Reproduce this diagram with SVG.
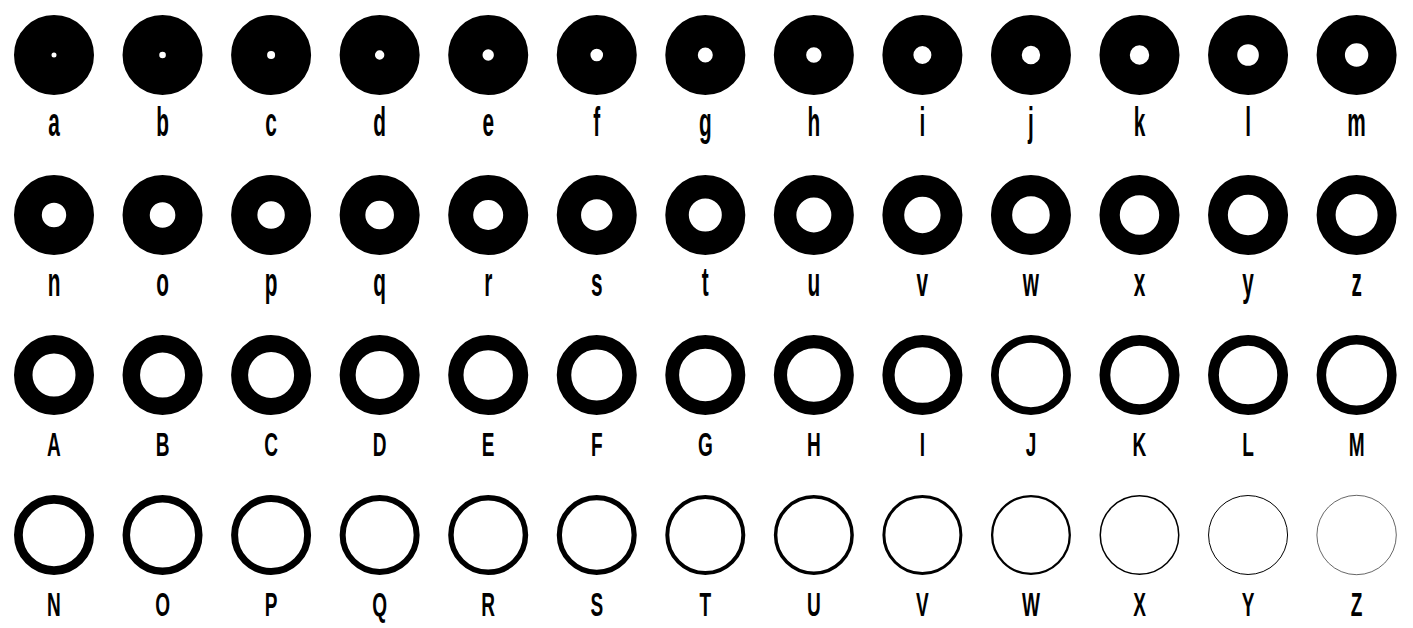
<svg xmlns="http://www.w3.org/2000/svg" width="1413" height="628" viewBox="0 0 1413 628">
<style>
.r{fill:none;stroke:#000}
.lo{font-family:"Liberation Sans",Arial,sans-serif;font-weight:bold;font-size:40px;text-anchor:middle;fill:#000}
.up{font-family:"Liberation Sans",Arial,sans-serif;font-weight:bold;font-size:34px;text-anchor:middle;fill:#000}
</style>
<rect width="1413" height="628" fill="#fff"/>
<g id="nodes">
<g id="n-a"><circle class="r" cx="54" cy="55" r="21.25" stroke-width="37.5"/><text class="lo" transform="translate(54 136) scale(0.52 1)">a</text></g>
<g id="n-b"><circle class="r" cx="162.55" cy="55" r="21.65" stroke-width="36.7"/><text class="lo" transform="translate(162.55 136) scale(0.52 1)">b</text></g>
<g id="n-c"><circle class="r" cx="271.1" cy="55" r="22" stroke-width="36"/><text class="lo" transform="translate(271.1 136) scale(0.52 1)">c</text></g>
<g id="n-d"><circle class="r" cx="379.65" cy="55" r="22.35" stroke-width="35.3"/><text class="lo" transform="translate(379.65 136) scale(0.52 1)">d</text></g>
<g id="n-e"><circle class="r" cx="488.2" cy="55" r="22.85" stroke-width="34.3"/><text class="lo" transform="translate(488.2 136) scale(0.52 1)">e</text></g>
<g id="n-f"><circle class="r" cx="596.75" cy="55" r="23.15" stroke-width="33.7"/><text class="lo" transform="translate(596.75 136) scale(0.52 1)">f</text></g>
<g id="n-g"><circle class="r" cx="705.3" cy="55" r="23.75" stroke-width="32.5"/><text class="lo" transform="translate(705.3 136) scale(0.52 1)">g</text></g>
<g id="n-h"><circle class="r" cx="813.85" cy="55" r="23.85" stroke-width="32.3"/><text class="lo" transform="translate(813.85 136) scale(0.52 1)">h</text></g>
<g id="n-i"><circle class="r" cx="922.4" cy="55" r="24.5" stroke-width="31"/><text class="lo" transform="translate(922.4 136) scale(0.52 1)">i</text></g>
<g id="n-j"><circle class="r" cx="1030.95" cy="55" r="24.6" stroke-width="30.8"/><text class="lo" transform="translate(1030.95 136) scale(0.52 1)">j</text></g>
<g id="n-k"><circle class="r" cx="1139.5" cy="55" r="24.85" stroke-width="30.3"/><text class="lo" transform="translate(1139.5 136) scale(0.52 1)">k</text></g>
<g id="n-l"><circle class="r" cx="1248.05" cy="55" r="25.4" stroke-width="29.2"/><text class="lo" transform="translate(1248.05 136) scale(0.52 1)">l</text></g>
<g id="n-m"><circle class="r" cx="1356.6" cy="55" r="25.85" stroke-width="28.3"/><text class="lo" transform="translate(1356.6 136) scale(0.52 1)">m</text></g>

<g id="n-n"><circle class="r" cx="54" cy="215" r="26.1" stroke-width="27.8"/><text class="lo" transform="translate(54 296) scale(0.52 1)">n</text></g>
<g id="n-o"><circle class="r" cx="162.55" cy="215" r="26.4" stroke-width="27.2"/><text class="lo" transform="translate(162.55 296) scale(0.52 1)">o</text></g>
<g id="n-p"><circle class="r" cx="271.1" cy="215" r="26.85" stroke-width="26.3"/><text class="lo" transform="translate(271.1 296) scale(0.52 1)">p</text></g>
<g id="n-q"><circle class="r" cx="379.65" cy="215" r="27.15" stroke-width="25.7"/><text class="lo" transform="translate(379.65 296) scale(0.52 1)">q</text></g>
<g id="n-r"><circle class="r" cx="488.2" cy="215" r="27.5" stroke-width="25"/><text class="lo" transform="translate(488.2 296) scale(0.52 1)">r</text></g>
<g id="n-s"><circle class="r" cx="596.75" cy="215" r="27.85" stroke-width="24.3"/><text class="lo" transform="translate(596.75 296) scale(0.52 1)">s</text></g>
<g id="n-t"><circle class="r" cx="705.3" cy="215" r="28.25" stroke-width="23.5"/><text class="lo" transform="translate(705.3 296) scale(0.52 1)">t</text></g>
<g id="n-u"><circle class="r" cx="813.85" cy="215" r="28.75" stroke-width="22.5"/><text class="lo" transform="translate(813.85 296) scale(0.52 1)">u</text></g>
<g id="n-v"><circle class="r" cx="922.4" cy="215" r="29.1" stroke-width="21.8"/><text class="lo" transform="translate(922.4 296) scale(0.52 1)">v</text></g>
<g id="n-w"><circle class="r" cx="1030.95" cy="215" r="29.4" stroke-width="21.2"/><text class="lo" transform="translate(1030.95 296) scale(0.52 1)">w</text></g>
<g id="n-x"><circle class="r" cx="1139.5" cy="215" r="29.85" stroke-width="20.3"/><text class="lo" transform="translate(1139.5 296) scale(0.52 1)">x</text></g>
<g id="n-y"><circle class="r" cx="1248.05" cy="215" r="30.1" stroke-width="19.8"/><text class="lo" transform="translate(1248.05 296) scale(0.52 1)">y</text></g>
<g id="n-z"><circle class="r" cx="1356.6" cy="215" r="30.5" stroke-width="19"/><text class="lo" transform="translate(1356.6 296) scale(0.52 1)">z</text></g>

<g id="n-A"><circle class="r" cx="54" cy="375" r="30.75" stroke-width="18.5"/><text class="up" transform="translate(54 456) scale(0.56 1)">A</text></g>
<g id="n-B"><circle class="r" cx="162.55" cy="375" r="31.25" stroke-width="17.5"/><text class="up" transform="translate(162.55 456) scale(0.56 1)">B</text></g>
<g id="n-C"><circle class="r" cx="271.1" cy="375" r="31.5" stroke-width="17"/><text class="up" transform="translate(271.1 456) scale(0.56 1)">C</text></g>
<g id="n-D"><circle class="r" cx="379.65" cy="375" r="32" stroke-width="16"/><text class="up" transform="translate(379.65 456) scale(0.56 1)">D</text></g>
<g id="n-E"><circle class="r" cx="488.2" cy="375" r="32.35" stroke-width="15.3"/><text class="up" transform="translate(488.2 456) scale(0.56 1)">E</text></g>
<g id="n-F"><circle class="r" cx="596.75" cy="375" r="32.75" stroke-width="14.5"/><text class="up" transform="translate(596.75 456) scale(0.56 1)">F</text></g>
<g id="n-G"><circle class="r" cx="705.3" cy="375" r="33.1" stroke-width="13.8"/><text class="up" transform="translate(705.3 456) scale(0.56 1)">G</text></g>
<g id="n-H"><circle class="r" cx="813.85" cy="375" r="33.4" stroke-width="13.2"/><text class="up" transform="translate(813.85 456) scale(0.56 1)">H</text></g>
<g id="n-I"><circle class="r" cx="922.4" cy="375" r="33.9" stroke-width="12.2"/><text class="up" transform="translate(922.4 456) scale(0.56 1)">I</text></g>
<g id="n-J"><circle class="r" cx="1030.95" cy="375" r="36.1" stroke-width="7.8"/><text class="up" transform="translate(1030.95 456) scale(0.56 1)">J</text></g>
<g id="n-K"><circle class="r" cx="1139.5" cy="375" r="34.6" stroke-width="10.8"/><text class="up" transform="translate(1139.5 456) scale(0.56 1)">K</text></g>
<g id="n-L"><circle class="r" cx="1248.05" cy="375" r="34.6" stroke-width="10.8"/><text class="up" transform="translate(1248.05 456) scale(0.56 1)">L</text></g>
<g id="n-M"><circle class="r" cx="1356.6" cy="375" r="35.25" stroke-width="9.5"/><text class="up" transform="translate(1356.6 456) scale(0.56 1)">M</text></g>

<g id="n-N"><circle class="r" cx="54" cy="535" r="35.6" stroke-width="8.8"/><text class="up" transform="translate(54 616) scale(0.56 1)">N</text></g>
<g id="n-O"><circle class="r" cx="162.55" cy="535" r="36.25" stroke-width="7.5"/><text class="up" transform="translate(162.55 616) scale(0.56 1)">O</text></g>
<g id="n-P"><circle class="r" cx="271.1" cy="535" r="36.5" stroke-width="7"/><text class="up" transform="translate(271.1 616) scale(0.56 1)">P</text></g>
<g id="n-Q"><circle class="r" cx="379.65" cy="535" r="37" stroke-width="6"/><text class="up" transform="translate(379.65 616) scale(0.56 1)">Q</text></g>
<g id="n-R"><circle class="r" cx="488.2" cy="535" r="37.25" stroke-width="5.5"/><text class="up" transform="translate(488.2 616) scale(0.56 1)">R</text></g>
<g id="n-S"><circle class="r" cx="596.75" cy="535" r="37.4" stroke-width="5.2"/><text class="up" transform="translate(596.75 616) scale(0.56 1)">S</text></g>
<g id="n-T"><circle class="r" cx="705.3" cy="535" r="38" stroke-width="4"/><text class="up" transform="translate(705.3 616) scale(0.56 1)">T</text></g>
<g id="n-U"><circle class="r" cx="813.85" cy="535" r="38.25" stroke-width="3.5"/><text class="up" transform="translate(813.85 616) scale(0.56 1)">U</text></g>
<g id="n-V"><circle class="r" cx="922.4" cy="535" r="38.5" stroke-width="3"/><text class="up" transform="translate(922.4 616) scale(0.56 1)">V</text></g>
<g id="n-W"><circle class="r" cx="1030.95" cy="535" r="38.85" stroke-width="2.3"/><text class="up" transform="translate(1030.95 616) scale(0.56 1)">W</text></g>
<g id="n-X"><circle class="r" cx="1139.5" cy="535" r="39.25" stroke-width="1.5"/><text class="up" transform="translate(1139.5 616) scale(0.56 1)">X</text></g>
<g id="n-Y"><circle class="r" cx="1248.05" cy="535" r="39.5" stroke-width="1"/><text class="up" transform="translate(1248.05 616) scale(0.56 1)">Y</text></g>
<g id="n-Z"><circle class="r" cx="1356.6" cy="535" r="39.7" stroke-width="0.6"/><text class="up" transform="translate(1356.6 616) scale(0.56 1)">Z</text></g>
</g>
<g id="connectors"></g>
</svg>
